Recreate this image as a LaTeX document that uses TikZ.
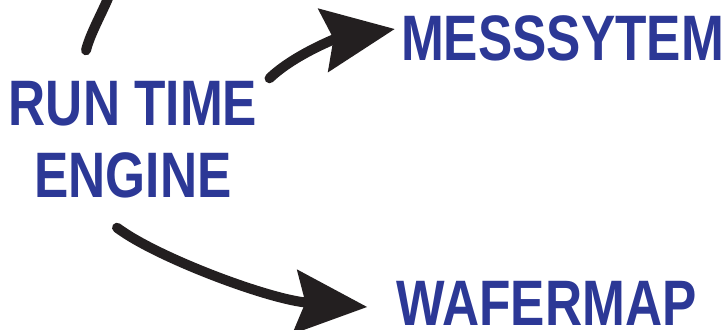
\documentclass[tikz,border=0pt]{standalone}
\usepackage{fontspec}
\newfontfamily\wordfont{Liberation Sans}[FakeStretch=0.80]
\usetikzlibrary{arrows.meta}
\definecolor{wordblue}{RGB}{44,56,150}
\definecolor{inkblack}{RGB}{35,31,32}

\begin{document}
\begin{tikzpicture}[
    x=0.025cm, y=-0.025cm,
    word/.style={
        inner sep=0pt, text=wordblue, align=center,
        font=\wordfont\bfseries\fontsize{45.7}{51.2}\selectfont
    },
    stem/.style={inkblack, line width=7.1pt, line cap=round},
    arrow/.style={stem, -{Stealth[length=1.8cm, width=1.575cm, inset=0.25cm]}}
]
\clip (0,0) rectangle (728,329);

\node[word] (rte)   at (133,140)   {RUN TIME\\ENGINE};
\node[word] (mess)  at (562.5,38.5) {MESSSYTEM};
\node[word] (wafer) at (546.5,303) {WAFERMAP};

\coordinate (offtop) at (113,-15);

\draw[arrow] ([shift={(12,-3)}]rte.north east)
    .. controls +(25,-24) and +(-57,9) .. ([shift={(-6,-9.5)}]mess.west);
\draw[arrow] ([shift={(-16,29)}]rte.south)
    .. controls +(40,30) and +(-97,-7) .. ([shift={(-29,4)}]wafer.west);
\draw[stem] ([shift={(-47,-31)}]rte.north)
    .. controls +(5,-20) and +(-6,20) .. (offtop);
\end{tikzpicture}
\end{document}
